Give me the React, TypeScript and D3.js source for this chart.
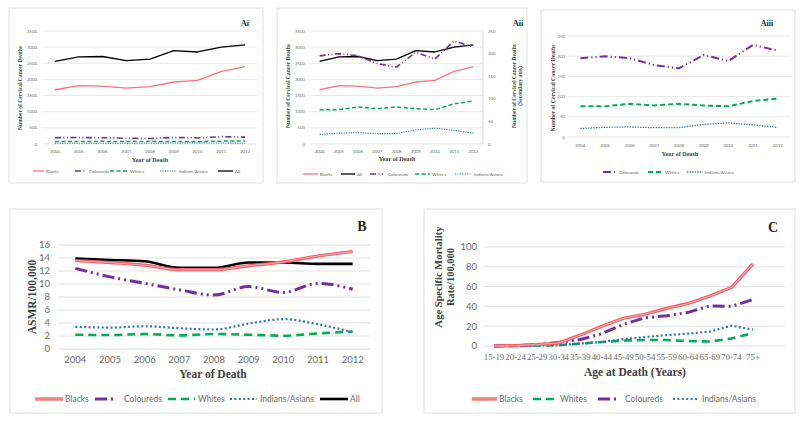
import React from "react";
import * as d3 from "d3";

// ---------- data ----------
const years = ["2004", "2005", "2006", "2007", "2008", "2009", "2010", "2011", "2012"];
const deathsBlacks = [1680, 1810, 1790, 1730, 1780, 1920, 1970, 2250, 2400];
const deathsAll = [2560, 2700, 2710, 2580, 2630, 2890, 2850, 3000, 3070];
const deathsColoureds = [195, 200, 195, 178, 170, 203, 188, 228, 214];
const deathsWhites = [76, 76, 82, 78, 82, 78, 76, 89, 95];
const deathsIndians = [21, 24, 25, 23, 23, 31, 35, 30, 24];

const asmrBlacks = [13.6, 13.3, 12.9, 12.2, 12.2, 12.8, 13.4, 14.3, 15.0];
const asmrColoureds = [12.4, 11.1, 10.1, 9.1, 8.3, 9.6, 8.7, 10.1, 9.2];
const asmrWhites = [2.2, 2.15, 2.3, 2.1, 2.3, 2.2, 2.05, 2.4, 2.7];
const asmrIndians = [3.4, 3.3, 3.5, 3.2, 3.0, 3.9, 4.6, 3.8, 2.6];
const asmrAll = [13.9, 13.7, 13.5, 12.5, 12.5, 13.3, 13.3, 13.1, 13.1];

const ageGroups = ["15-19", "20-24", "25-29", "30-34", "35-39", "40-44", "45-49", "50-54", "55-59", "60-64", "65-69", "70-74", "75+"];
const ageBlacks = [0, 0.5, 1.5, 3, 11, 20, 28, 32, 38, 43, 50.5, 59, 83];
const ageWhites = [0, 0, 0.5, 0.8, 2.5, 4, 5.5, 6, 6, 5, 4.5, 7.5, 13];
const ageColoureds = [0, 0.3, 1.5, 3.5, 6.5, 12.5, 22, 28.5, 30.5, 34, 40.5, 40, 47];
const ageIndians = [0, 0, 0.3, 1, 2.5, 4, 7, 9, 11, 12.5, 14.5, 20.5, 16.5];

const deathTicks = [0, 500, 1000, 1500, 2000, 2500, 3000, 3500];
const smallTicks = [0, 50, 100, 150, 200, 250];
const asmrTicks = [0, 2, 4, 6, 8, 10, 12, 14, 16];
const ageTicks = [0, 20, 40, 60, 80, 100];

// ---------- styles ----------
const SERIF = "'Liberation Serif','DejaVu Serif',serif";
const SANS = "Lato,'Liberation Sans',sans-serif";
const RED = "#ef5f66";
const PURPLE = "#7030a0";
const GREEN = "#00b050";
const BLUE = "#2e75b6";
const TICK = "#6a6a6a";

type Style = { color: string; width: number; dash?: string; inner?: string };

const smallStyles: Record<string, Style> = {
  Blacks: { color: "#f4777c", width: 1.3 },
  All: { color: "#000", width: 1.3 },
  Coloureds: { color: PURPLE, width: 1.6, dash: "6 2.5 1 2.5 1 2.5" },
  Whites: { color: GREEN, width: 1.5, dash: "4 2.5" },
  "Indians/Asians": { color: BLUE, width: 1.1, dash: "1.2 1.2" },
};
const bigStyles: Record<string, Style> = {
  Blacks: { color: RED, width: 3.2, inner: "#f6a9ab" },
  All: { color: "#000", width: 2.6 },
  Coloureds: { color: PURPLE, width: 3, dash: "12 4 2 4 2 4" },
  Whites: { color: GREEN, width: 2.6, dash: "8 5" },
  "Indians/Asians": { color: BLUE, width: 2.2, dash: "2 2.4" },
};

type Series = { name: string; values: number[]; axis?: "right" };
type LegendItem = { name: string; x0: number; x1: number; tx: number };

type PanelProps = {
  box: [number, number, number, number];
  label: string;
  labelPos: [number, number];
  labelSize: number;
  cats: string[];
  pointRange?: [number, number];
  grid: [number, number];
  yTop: number;
  yBottom: number;
  yDomain: [number, number];
  yTicks: number[];
  yTickX: number;
  right?: { domain: [number, number]; ticks: number[]; x: number };
  tickSize: number;
  tickFont: string;
  xTickY: number;
  xTickSize: number;
  xTickFont: string;
  series: Series[];
  styles: Record<string, Style>;
  curve: d3.CurveFactory;
  yTitle: string[];
  yTitleX: number[];
  yTitleY: number;
  yTitleSize: number;
  rTitle?: string[];
  rTitleX?: number[];
  xTitle: string;
  xTitlePos: [number, number];
  xTitleSize: number;
  legend: LegendItem[];
  legendY: number;
  legendSize: number;
  gridWidth: number;
};

function StyledPath({ d, st }: { d: string; st: Style }) {
  return (
    <g>
      <path d={d} fill="none" stroke={st.color} strokeWidth={st.width} strokeDasharray={st.dash} strokeLinejoin="round" />
      {st.inner && <path d={d} fill="none" stroke={st.inner} strokeWidth={st.width * 0.32} strokeLinejoin="round" />}
    </g>
  );
}

function Panel(p: PanelProps) {
  const [bx, by, bw, bh] = p.box;
  let xPos: (c: string) => number;
  if (p.pointRange) {
    const s = d3.scalePoint<string>().domain(p.cats).range(p.pointRange);
    xPos = (c) => s(c) as number;
  } else {
    const s = d3.scaleBand<string>().domain(p.cats).range(p.grid);
    xPos = (c) => (s(c) as number) + s.bandwidth() / 2;
  }
  const y = d3.scaleLinear().domain(p.yDomain).range([p.yBottom, p.yTop]);
  const yR = p.right ? d3.scaleLinear().domain(p.right.domain).range([p.yBottom, p.yTop]) : y;

  return (
    <g>
      <rect x={bx} y={by} width={bw} height={bh} fill="#fff" stroke="#d9d9d9" strokeWidth={0.8} />
      {p.yTicks.map((t) => (
        <g key={"g" + t}>
          <line x1={p.grid[0]} x2={p.grid[1]} y1={y(t)} y2={y(t)} stroke="#d9d9d9" strokeWidth={p.gridWidth} />
          <text x={p.yTickX} y={y(t)} dy="0.35em" textAnchor="end" fontFamily={p.tickFont} fontSize={p.tickSize} fill={TICK}>
            {t}
          </text>
        </g>
      ))}
      {p.right && (
        <g>
          <line x1={p.grid[1]} x2={p.grid[1]} y1={p.yTop} y2={p.yBottom} stroke="#bfbfbf" strokeWidth={0.6} />
          {p.right.ticks.map((t) => (
            <text key={"r" + t} x={p.right!.x} y={yR(t)} dy="0.35em" textAnchor="start" fontFamily={p.tickFont} fontSize={p.tickSize} fill={TICK}>
              {t}
            </text>
          ))}
        </g>
      )}
      {p.cats.map((c) => (
        <text key={"x" + c} x={xPos(c)} y={p.xTickY} dy="0.35em" textAnchor="middle" fontFamily={p.xTickFont} fontSize={p.xTickSize} fill={TICK}>
          {c}
        </text>
      ))}
      {p.series.map((s) => {
        const sc = s.axis === "right" ? yR : y;
        const pts: [number, number][] = s.values.map((v, i) => [xPos(p.cats[i]), sc(v)]);
        const d = d3.line().curve(p.curve)(pts) as string;
        return <StyledPath key={s.name} d={d} st={p.styles[s.name]} />;
      })}
      {p.yTitle.map((t, i) => (
        <text
          key={"yt" + i}
          transform={`translate(${p.yTitleX[i]},${p.yTitleY}) rotate(-90)`}
          textAnchor="middle"
          dy="0.35em"
          fontFamily={SERIF}
          fontWeight="bold"
          fontSize={p.yTitleSize}
          fill="#404040"
        >
          {t}
        </text>
      ))}
      {p.rTitle &&
        p.rTitle.map((t, i) => (
          <text
            key={"rt" + i}
            transform={`translate(${p.rTitleX![i]},${p.yTitleY}) rotate(-90)`}
            textAnchor="middle"
            dy="0.35em"
            fontFamily={SERIF}
            fontWeight="bold"
            fontSize={p.yTitleSize}
            fill="#404040"
          >
            {t}
          </text>
        ))}
      <text x={p.xTitlePos[0]} y={p.xTitlePos[1]} dy="0.35em" textAnchor="middle" fontFamily={SERIF} fontWeight="bold" fontSize={p.xTitleSize} fill="#404040">
        {p.xTitle}
      </text>
      <text x={p.labelPos[0]} y={p.labelPos[1]} dy="0.35em" textAnchor="middle" fontFamily={SERIF} fontWeight="bold" fontSize={p.labelSize} fill="#262626">
        {p.label}
      </text>
      {p.legend.map((l) => {
        const st = p.styles[l.name];
        return (
          <g key={"l" + l.name}>
            <StyledPath d={`M${l.x0},${p.legendY}L${l.x1},${p.legendY}`} st={st} />
            <text x={l.tx} y={p.legendY} dy="0.35em" fontFamily={SANS} fontSize={p.legendSize} fill={TICK}>
              {l.name}
            </text>
          </g>
        );
      })}
    </g>
  );
}

const yTitleA = ["Number of Cervical Cancer Deaths"];

export default function App() {
  return (
    <svg width={800} height={422} style={{ position: "absolute", left: 0, top: 0, background: "#fff" }}>
      <rect x={0} y={0} width={800} height={422} fill="#fff" />
      {/* Ai */}
      <Panel
        box={[9, 8, 254, 175]}
        label="Ai"
        labelPos={[245, 23]}
        labelSize={8}
        cats={years}
        grid={[43, 257]}
        yTop={31}
        yBottom={144}
        yDomain={[0, 3500]}
        yTicks={deathTicks}
        yTickX={37}
        tickSize={4.3}
        tickFont={SANS}
        xTickY={151}
        xTickSize={4.3}
        xTickFont={SANS}
        series={[
          { name: "Blacks", values: deathsBlacks },
          { name: "Coloureds", values: deathsColoureds },
          { name: "Whites", values: deathsWhites },
          { name: "Indians/Asians", values: deathsIndians },
          { name: "All", values: deathsAll },
        ]}
        styles={smallStyles}
        curve={d3.curveLinear}
        yTitle={yTitleA}
        yTitleX={[20]}
        yTitleY={88}
        yTitleSize={5.6}
        xTitle="Year of Death"
        xTitlePos={[150, 160]}
        xTitleSize={6.2}
        legend={[
          { name: "Blacks", x0: 33, x1: 44, tx: 46 },
          { name: "Coloureds", x0: 75, x1: 86, tx: 89 },
          { name: "Whites", x0: 110, x1: 127, tx: 130 },
          { name: "Indians/Asians", x0: 160, x1: 177, tx: 179 },
          { name: "All", x0: 218, x1: 233, tx: 235 },
        ]}
        legendY={171}
        legendSize={4.5}
        gridWidth={0.6}
      />
      {/* Aii */}
      <Panel
        box={[277, 8, 250, 175]}
        label="Aii"
        labelPos={[518, 23]}
        labelSize={8}
        cats={years}
        grid={[310, 483]}
        yTop={31}
        yBottom={144}
        yDomain={[0, 3500]}
        yTicks={deathTicks}
        yTickX={305}
        right={{ domain: [0, 250], ticks: smallTicks, x: 488 }}
        tickSize={4.3}
        tickFont={SANS}
        xTickY={151}
        xTickSize={4.3}
        xTickFont={SANS}
        series={[
          { name: "Blacks", values: deathsBlacks },
          { name: "All", values: deathsAll },
          { name: "Coloureds", values: deathsColoureds, axis: "right" },
          { name: "Whites", values: deathsWhites, axis: "right" },
          { name: "Indians/Asians", values: deathsIndians, axis: "right" },
        ]}
        styles={smallStyles}
        curve={d3.curveLinear}
        yTitle={yTitleA}
        yTitleX={[288]}
        yTitleY={86}
        yTitleSize={5.6}
        rTitle={["Number of Cervical Cancer Deaths", "(Secondary axis)"]}
        rTitleX={[514, 520.5]}
        xTitle="Year of Death"
        xTitlePos={[397, 159]}
        xTitleSize={6.2}
        legend={[
          { name: "Blacks", x0: 303, x1: 318, tx: 320 },
          { name: "All", x0: 341, x1: 355, tx: 357 },
          { name: "Coloureds", x0: 370, x1: 383, tx: 388 },
          { name: "Whites", x0: 415, x1: 430, tx: 432 },
          { name: "Indians/Asians", x0: 455, x1: 472, tx: 474 },
        ]}
        legendY={174}
        legendSize={4.5}
        gridWidth={0.6}
      />
      {/* Aiii */}
      <Panel
        box={[541, 10, 254, 172]}
        label="Aiii"
        labelPos={[767, 23]}
        labelSize={8}
        cats={years}
        grid={[568, 790]}
        yTop={36}
        yBottom={137}
        yDomain={[0, 250]}
        yTicks={smallTicks}
        yTickX={565}
        tickSize={4.3}
        tickFont={SANS}
        xTickY={145}
        xTickSize={4.3}
        xTickFont={SANS}
        series={[
          { name: "Coloureds", values: deathsColoureds },
          { name: "Whites", values: deathsWhites },
          { name: "Indians/Asians", values: deathsIndians },
        ]}
        styles={{
          Coloureds: { color: PURPLE, width: 2, dash: "8 3 1.2 3 1.2 3" },
          Whites: { color: GREEN, width: 2, dash: "5 3" },
          "Indians/Asians": { color: BLUE, width: 1.3, dash: "1.3 1.3" },
        }}
        curve={d3.curveLinear}
        yTitle={yTitleA}
        yTitleX={[553]}
        yTitleY={88}
        yTitleSize={5.8}
        xTitle="Year of Death"
        xTitlePos={[680, 154]}
        xTitleSize={6.2}
        legend={[
          { name: "Coloureds", x0: 603, x1: 615, tx: 619 },
          { name: "Whites", x0: 648, x1: 663, tx: 665 },
          { name: "Indians/Asians", x0: 687, x1: 703, tx: 705 },
        ]}
        legendY={172}
        legendSize={4.5}
        gridWidth={0.6}
      />
      {/* B */}
      <Panel
        box={[10, 209, 372, 204]}
        label="B"
        labelPos={[362, 226]}
        labelSize={14}
        cats={years}
        grid={[58, 370]}
        yTop={245}
        yBottom={349}
        yDomain={[0, 16]}
        yTicks={asmrTicks}
        yTickX={50}
        tickSize={9.5}
        tickFont={SANS}
        xTickY={360}
        xTickSize={9.5}
        xTickFont={SANS}
        series={[
          { name: "Whites", values: asmrWhites },
          { name: "Indians/Asians", values: asmrIndians },
          { name: "Coloureds", values: asmrColoureds },
          { name: "All", values: asmrAll },
          { name: "Blacks", values: asmrBlacks },
        ]}
        styles={bigStyles}
        curve={d3.curveMonotoneX}
        yTitle={["ASMR/100,000"]}
        yTitleX={[32]}
        yTitleY={297}
        yTitleSize={11.5}
        xTitle="Year of Death"
        xTitlePos={[213, 374]}
        xTitleSize={11.5}
        legend={[
          { name: "Blacks", x0: 35, x1: 63, tx: 65 },
          { name: "Coloureds", x0: 95, x1: 114, tx: 124 },
          { name: "Whites", x0: 168, x1: 195, tx: 198 },
          { name: "Indians/Asians", x0: 230, x1: 257, tx: 260 },
          { name: "All", x0: 320, x1: 348, tx: 350 },
        ]}
        legendY={399}
        legendSize={8.5}
        gridWidth={0.8}
      />
      {/* C */}
      <Panel
        box={[424, 209, 371, 204]}
        label="C"
        labelPos={[773, 227]}
        labelSize={14}
        cats={ageGroups}
        pointRange={[494, 753]}
        grid={[484, 785]}
        yTop={247}
        yBottom={346}
        yDomain={[0, 100]}
        yTicks={ageTicks}
        yTickX={477}
        tickSize={9.5}
        tickFont={SANS}
        xTickY={357}
        xTickSize={8.8}
        xTickFont={SERIF}
        series={[
          { name: "Whites", values: ageWhites },
          { name: "Indians/Asians", values: ageIndians },
          { name: "Coloureds", values: ageColoureds },
          { name: "Blacks", values: ageBlacks },
        ]}
        styles={bigStyles}
        curve={d3.curveLinear}
        yTitle={["Age Specific Mortality", "Rate/100,000"]}
        yTitleX={[438, 450]}
        yTitleY={277}
        yTitleSize={10.5}
        xTitle="Age at Death (Years)"
        xTitlePos={[635, 372]}
        xTitleSize={11.5}
        legend={[
          { name: "Blacks", x0: 472, x1: 497, tx: 499 },
          { name: "Whites", x0: 533, x1: 558, tx: 560 },
          { name: "Coloureds", x0: 598, x1: 617, tx: 625 },
          { name: "Indians/Asians", x0: 673, x1: 698, tx: 702 },
        ]}
        legendY={399}
        legendSize={8.5}
        gridWidth={0.8}
      />
    </svg>
  );
}
